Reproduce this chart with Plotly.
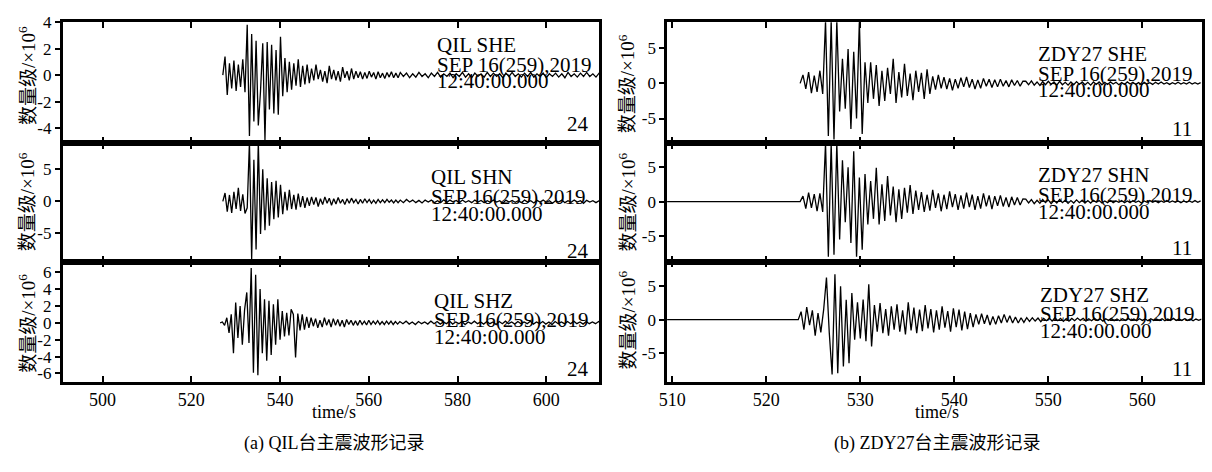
import plotly.graph_objects as go

# ---------------- data (values in units of 10^6 counts) ----------------
# Left column: station QIL, time axis in seconds
QIL_XRANGE = [491.0, 611.9]
QIL_XTICKS = [500, 520, 540, 560, 580, 600]
# Right column: station ZDY27
ZDY_XRANGE = [509.45, 566.3]
ZDY_XTICKS = [510, 520, 530, 540, 550, 560]

# --- QIL SHE ---
QIL_SHE_A_T0, QIL_SHE_A_DT = 527.1, 0.5
QIL_SHE_A = [0.0, 1.4, -1.5, 0.9, -1.0, 1.1, -1.2, 0.8, -0.9, 1.2, -1.3, 3.8, -4.6, 3.1, -3.5, 2.6, -3.8, -1.2, 2.4, -4.9,
             2.5, -2.6, 2.3, -2.9, 1.9, -3.0, 2.9, -1.6, 1.3, -1.3, 1.0, -1.1, 0.9, -0.8, 1.2, -0.9, 0.7, -0.7, 0.8, -0.6]
QIL_SHE_B_T0, QIL_SHE_B_DT = 547.1, 0.5
QIL_SHE_B = [0.5, -0.4, 0.8, -0.3, 0.4, -0.5, 0.3, -0.6, 0.7, -0.3, 0.4, -0.4, 0.3, -0.5, 0.6, -0.2, 0.3, -0.4, 0.5, -0.3,
             0.3, -0.2, 0.25, -0.3, 0.2, -0.25, 0.3, -0.15, 0.2, -0.3, 0.25, -0.2, 0.15, -0.25, 0.2, -0.15, 0.25, -0.2, 0.15, -0.2]
QIL_SHE_C_T0, QIL_SHE_C_DT = 567.1, 0.7
QIL_SHE_C = [0.2, -0.1, 0.15, -0.2, 0.1, -0.15, 0.2, -0.1, 0.1, -0.2, 0.15, -0.1, 0.2, -0.15, 0.1, -0.1, 0.15, -0.2,
             0.1, -0.1, 0.2, -0.15, 0.1, -0.2, 0.15, -0.1, 0.1, -0.15, 0.2, -0.1, 0.15, -0.1, 0.1, -0.2, 0.15, -0.1,
             0.2, -0.1, 0.1, -0.15, 0.15, -0.1, 0.2, -0.15, 0.1, -0.1, 0.15, -0.2, 0.1, -0.1, 0.15, -0.15, 0.1, -0.2,
             0.2, -0.1, 0.1, -0.15, 0.15, -0.1, 0.2, -0.1, 0.1, -0.15, 0.15, -0.1, 0.1, -0.2, 0.15, -0.1, 0.1, -0.1]

# --- QIL SHN ---
QIL_SHN_A_T0, QIL_SHN_A_DT = 527.1, 0.5
QIL_SHN_A = [0.0, 1.3, -1.6, 1.0, -1.8, 1.5, -1.2, 2.1, -1.5, 1.1, -1.9, -1.0, 9.3, -9.0, 6.5, -7.5, 9.3, -5.1, 5.0, -4.5,
             3.6, -3.8, 3.0, -2.8, 3.2, -2.5, 2.6, -2.0, 1.5, -1.4, 1.8, -1.2, 1.0, -1.3, 1.2, -0.9, 0.8, -1.0, 0.6, -0.7]
QIL_SHN_B_T0, QIL_SHN_B_DT = 547.1, 0.5
QIL_SHN_B = [0.7, -0.5, 0.6, -0.8, 0.4, -0.5, 0.7, -0.3, 0.5, -0.6, 0.4, -0.4, 0.6, -0.3, 0.3, -0.5, 0.4, -0.3, 0.5, -0.2,
             0.3, -0.4, 0.3, -0.3, 0.4, -0.2, 0.3, -0.3, 0.2, -0.3, 0.3, -0.2, 0.25, -0.2, 0.3, -0.15, 0.2, -0.25, 0.2, -0.2]
QIL_SHN_C_T0, QIL_SHN_C_DT = 567.1, 0.7
QIL_SHN_C = [0.2, -0.2, 0.3, -0.1, 0.2, -0.2, 0.15, -0.25, 0.2, -0.1, 0.2, -0.2, 0.1, -0.2, 0.25, -0.15, 0.2, -0.1,
             0.15, -0.2, 0.2, -0.15, 0.1, -0.2, 0.2, -0.1, 0.15, -0.2, 0.1, -0.15, 0.2, -0.1, 0.1, -0.3, 0.2, -0.1,
             0.15, -0.15, 0.1, -0.2, 0.2, -0.1, 0.1, -0.25, 0.15, -0.1, 0.2, -0.15, 0.1, -0.3, 0.1, -0.1, 0.2, -0.2,
             0.1, -0.15, 0.2, -0.1, 0.1, -0.3, 0.15, -0.1, 0.1, -0.2, 0.1, -0.25, 0.15, -0.1, 0.1, -0.2, 0.1, -0.1]

# --- QIL SHZ ---
QIL_SHZ_A_T0, QIL_SHZ_A_DT = 526.5, 0.5
QIL_SHZ_A = [0.0, 0.1, -0.3, 0.6, -1.2, 1.0, -3.6, 2.4, -1.8, 2.0, -2.6, 1.5, 3.6, -2.4, 6.5, -5.9, 5.7, -6.2, 4.0, -3.6,
             2.8, -4.5, 2.6, -3.8, 2.2, -2.6, 2.8, -2.0, 1.4, -1.6, 1.2, -1.5, 1.6, 1.0, -4.1, 1.1, -0.9, 1.0, -0.8, 0.7, -0.6]
QIL_SHZ_B_T0, QIL_SHZ_B_DT = 547.0, 0.5
QIL_SHZ_B = [0.6, -0.4, 0.5, -0.6, 0.3, -0.5, 0.6, -0.3, 0.4, -0.5, 0.5, -0.3, 0.4, -0.4, 0.3, -0.5, 0.4, -0.2, 0.3, -0.3,
             0.25, -0.3, 0.3, -0.2, 0.2, -0.25, 0.3, -0.2, 0.2, -0.15, 0.25, -0.2, 0.15, -0.2, 0.2, -0.15, 0.2, -0.2, 0.15, -0.15]
QIL_SHZ_C_T0, QIL_SHZ_C_DT = 567.0, 0.7
QIL_SHZ_C = [0.15, -0.1, 0.2, -0.15, 0.1, -0.2, 0.15, -0.1, 0.1, -0.15, 0.2, -0.1, 0.15, -0.15, 0.1, -0.1, 0.2, -0.15,
             0.1, -0.1, 0.15, -0.2, 0.1, -0.1, 0.2, -0.1, 0.1, -0.15, 0.15, -0.1, 0.1, -0.2, 0.15, -0.1, 0.2, -0.1,
             0.1, -0.15, 0.15, -0.1, 0.1, -0.1, 0.2, -0.15, 0.1, -0.1, 0.15, -0.15, 0.1, -0.2, 0.15, -0.1, 0.1, -0.1,
             0.15, -0.1, 0.2, -0.1, 0.1, -0.15, 0.15, -0.1, 0.1, -0.1, 0.15, -0.15, 0.1, -0.1, 0.15, -0.1, 0.1, -0.1]

# --- ZDY27 SHE ---
ZDY_SHE_A_T0, ZDY_SHE_A_DT = 523.6, 0.3
ZDY_SHE_A = [0.0, 1.2, -0.8, 1.6, -1.4, 1.1, -1.2, 1.8, -1.5, 8.9, -7.5, 8.9, -8.0, 8.9, -4.0, 3.5, -3.6, 4.9, -6.5, 4.5,
             -5.0, 8.9, -7.2, 3.0, -2.8, 3.0, -2.2, 2.6, -3.2, 1.8, -2.5, 2.2, -1.5, 3.5, -2.8, 1.6, -2.0, 2.8, -1.8, 1.4,
             -2.4, 1.8, -1.2, 1.5, -2.2, 2.0, -1.5, 1.0, -0.9, 1.2, -0.7,
             0.9, -0.8, 0.7, -1.0, 0.6, -0.7, 0.8, -0.5, 0.9, -0.6, 0.6, -0.8, 0.5, -0.7, 0.7, -0.4, 0.6, -0.6, 0.5, -0.5,
             0.6, -0.4, 0.4, -0.5, 0.5, -0.3, 0.4, -0.4, 0.3]
ZDY_SHE_B_T0, ZDY_SHE_B_DT = 547.6, 0.3
ZDY_SHE_B = [0.3, -0.2, 0.35, -0.25, 0.2, -0.3, 0.25, -0.2, 0.3, -0.15, 0.2, -0.25, 0.3, -0.2, 0.15, -0.25, 0.2, -0.2,
             0.25, -0.15, 0.2, -0.2, 0.15, -0.25, 0.2, -0.15, 0.2, -0.2, 0.15, -0.15, 0.2, -0.1, 0.15, -0.2, 0.1, -0.15,
             0.2, -0.1, 0.15, -0.15, 0.1, -0.2, 0.15, -0.1, 0.1, -0.15, 0.15, -0.1, 0.2, -0.1, 0.1, -0.15, 0.1, -0.1,
             0.15, -0.1, 0.1, -0.1, 0.15, -0.1, 0.1, -0.1, 0.1]

# --- ZDY27 SHN ---
ZDY_SHN_PRE_T = [509.0, 523.5]
ZDY_SHN_PRE = [0.0, 0.0]
ZDY_SHN_A_T0, ZDY_SHN_A_DT = 523.6, 0.3
ZDY_SHN_A = [0.0, 0.8, -1.0, 1.3, -0.9, 1.1, -1.4, 1.2, -1.5, 8.5, -8.0, 8.5, -7.7, 8.5, -5.5, 6.0, -3.0, 5.0, -6.0, 7.3,
             -8.0, 3.5, -7.0, 4.0, -3.3, 3.0, -2.5, 4.9, -3.3, 2.5, -2.8, 3.7, -2.0, 2.2, -3.0, 1.8, -2.5, 2.0, -1.6, 2.4,
             -1.8,
             1.6, -1.2, 1.4, -1.5, 1.0, -1.3, 1.7, -0.9, 1.2, -1.4, 1.0, -1.1, 1.5, -0.8, 1.1, -1.2, 0.9, -1.0, 1.3, -0.8,
             1.0, -1.2, 0.8, -1.0, 1.2, -0.7, 0.9, -1.1, 0.8, -0.6, 0.9, -0.7, 0.6, -0.8, 0.7, -0.5, 0.6, -0.5, 0.4]
ZDY_SHN_B_T0, ZDY_SHN_B_DT = 547.6, 0.3
ZDY_SHN_B = [0.35, -0.2, 0.3, -0.3, 0.2, -0.25, 0.3, -0.15, 0.25, -0.3, 0.2, -0.2, 0.3, -0.15, 0.2, -0.25, 0.15, -0.2,
             0.25, -0.15, 0.2, -0.2, 0.15, -0.2, 0.2, -0.1, 0.15, -0.2, 0.1, -0.15, 0.2, -0.15, 0.1, -0.1, 0.15, -0.15,
             0.1, -0.15, 0.15, -0.1, 0.1, -0.2, 0.1, -0.1, 0.15, -0.1, 0.1, -0.15, 0.1, -0.1, 0.15, -0.1, 0.1, -0.1,
             0.1, -0.15, 0.1, -0.1, 0.1, -0.1, 0.15, -0.1, 0.1]

# --- ZDY27 SHZ ---
ZDY_SHZ_PRE_T = [509.0, 523.3]
ZDY_SHZ_PRE = [0.0, 0.0]
ZDY_SHZ_A_T0, ZDY_SHZ_A_DT = 523.4, 0.3
ZDY_SHZ_A = [0.0, 1.2, -1.5, 1.9, -0.8, 1.4, -2.4, 1.0, -1.9, 1.5, 6.3, -2.0, -8.2, 6.8, -8.0, 5.0, -7.0, 3.0, -6.5, 4.0,
             -3.0, 2.6, -2.8, 3.0, -3.2, 5.3, -4.0, 2.2, -1.8, 2.5, -2.0, 1.6, -2.4, 2.0, -1.5, 2.3, -1.8, 1.4, -2.2, 2.6,
             -1.6, 1.8, -2.0, 1.5, -1.7, 2.2, -1.3, 1.6, -1.9, 1.4, -1.5, 2.0, -1.2, 1.3, -1.8, 1.7, -1.1, 1.5, -1.6, 1.2,
             -1.4, 1.0, -1.1, 0.8, -0.7, 0.9, -0.6, 0.7, -0.8, 0.5, -0.7, 0.6, -0.5, 0.8, -0.4, 0.6, -0.5, 0.4, -0.5, 0.3,
             -0.4]
ZDY_SHZ_B_T0, ZDY_SHZ_B_DT = 547.7, 0.3
ZDY_SHZ_B = [0.3, -0.25, 0.3, -0.2, 0.25, -0.3, 0.2, -0.15, 0.25, -0.2, 0.3, -0.15, 0.2, -0.25, 0.15, -0.2, 0.2, -0.15,
             0.25, -0.1, 0.2, -0.2, 0.15, -0.15, 0.2, -0.1, 0.15, -0.2, 0.15, -0.1, 0.2, -0.15, 0.1, -0.15, 0.15, -0.1,
             0.2, -0.1, 0.1, -0.15, 0.15, -0.1, 0.1, -0.15, 0.15, -0.1, 0.1, -0.1, 0.15, -0.15, 0.1, -0.1, 0.2, -0.1,
             0.1, -0.1, 0.15, -0.1, 0.1, -0.15, 0.1, -0.1, 0.1]

# y-axis ranges and tick labels per panel
QIL_SHE_YRANGE = [-5.14, 4.0]
QIL_SHE_YTICKS = [4, 2, 0, -2, -4]
QIL_SHN_YRANGE = [-9.4, 9.1]
QIL_SHN_YTICKS = [5, 0, -5]
QIL_SHZ_YRANGE = [-7.0, 7.26]
QIL_SHZ_YTICKS = [6, 4, 2, 0, -2, -4, -6]
ZDY_SHE_YRANGE = [-8.5, 8.7]
ZDY_SHE_YTICKS = [5, 0, -5]
ZDY_SHN_YRANGE = [-8.7, 8.5]
ZDY_SHN_YTICKS = [5, 0, -5]
ZDY_SHZ_YRANGE = [-9.3, 8.7]
ZDY_SHZ_YTICKS = [5, 0, -5]

# panel labels
QIL_NAMES = ["QIL SHE", "QIL SHN", "QIL SHZ"]
ZDY_NAMES = ["ZDY27 SHE", "ZDY27 SHN", "ZDY27 SHZ"]
DATE_TEXT = "SEP 16(259),2019"
TIME_TEXT = "12:40:00.000"
QIL_COUNT = "24"
ZDY_COUNT = "11"
Y_TITLE = "数量级/×10<sup>6</sup>"
X_TITLE = "time/s"
CAPTIONS = ["(a) QIL台主震波形记录", "(b) ZDY27台主震波形记录"]

# ---------------- figure ----------------
W, H = 1212, 472
SERIF = "Liberation Serif, Times New Roman, serif"
CJK = "Liberation Serif, Noto Sans CJK SC, serif"


def fx(p):
    return p / W


def fy(p):
    return 1 - p / H


def build(segments, pre=None):
    xs, ys = [], []
    if pre is not None:
        xs += list(pre[0])
        ys += list(pre[1])
    for t0, dt, vals in segments:
        xs += [t0 + dt * i for i in range(len(vals))]
        ys += list(vals)
    return xs, ys


COLS = [(55, 595), (663.5, 1201.5)]
ROWS = [(13.5, 137), (137, 258), (258, 381)]
# per panel label placement (pixels): text left x, SEP-line centre y, count centre y
LABEL_POS = {
    (0, 0): (430, 57, 117), (1, 0): (424, 192, 247), (2, 0): (427, 318, 368),
    (0, 1): (1035, 66, 123), (1, 1): (1035, 190, 244), (2, 1): (1037, 312, 368),
}

panels = [
    (0, 0, [(QIL_SHE_A_T0, QIL_SHE_A_DT, QIL_SHE_A), (QIL_SHE_B_T0, QIL_SHE_B_DT, QIL_SHE_B), (QIL_SHE_C_T0, QIL_SHE_C_DT, QIL_SHE_C)],
     None, QIL_SHE_YRANGE, QIL_SHE_YTICKS, QIL_NAMES[0], QIL_COUNT),
    (0, 1, [(ZDY_SHE_A_T0, ZDY_SHE_A_DT, ZDY_SHE_A), (ZDY_SHE_B_T0, ZDY_SHE_B_DT, ZDY_SHE_B)],
     None, ZDY_SHE_YRANGE, ZDY_SHE_YTICKS, ZDY_NAMES[0], ZDY_COUNT),
    (1, 0, [(QIL_SHN_A_T0, QIL_SHN_A_DT, QIL_SHN_A), (QIL_SHN_B_T0, QIL_SHN_B_DT, QIL_SHN_B), (QIL_SHN_C_T0, QIL_SHN_C_DT, QIL_SHN_C)],
     None, QIL_SHN_YRANGE, QIL_SHN_YTICKS, QIL_NAMES[1], QIL_COUNT),
    (1, 1, [(ZDY_SHN_A_T0, ZDY_SHN_A_DT, ZDY_SHN_A), (ZDY_SHN_B_T0, ZDY_SHN_B_DT, ZDY_SHN_B)],
     (ZDY_SHN_PRE_T, ZDY_SHN_PRE), ZDY_SHN_YRANGE, ZDY_SHN_YTICKS, ZDY_NAMES[1], ZDY_COUNT),
    (2, 0, [(QIL_SHZ_A_T0, QIL_SHZ_A_DT, QIL_SHZ_A), (QIL_SHZ_B_T0, QIL_SHZ_B_DT, QIL_SHZ_B), (QIL_SHZ_C_T0, QIL_SHZ_C_DT, QIL_SHZ_C)],
     None, QIL_SHZ_YRANGE, QIL_SHZ_YTICKS, QIL_NAMES[2], QIL_COUNT),
    (2, 1, [(ZDY_SHZ_A_T0, ZDY_SHZ_A_DT, ZDY_SHZ_A), (ZDY_SHZ_B_T0, ZDY_SHZ_B_DT, ZDY_SHZ_B)],
     (ZDY_SHZ_PRE_T, ZDY_SHZ_PRE), ZDY_SHZ_YRANGE, ZDY_SHZ_YTICKS, ZDY_NAMES[2], ZDY_COUNT),
]

fig = go.Figure()
layout = dict(
    width=W, height=H, margin=dict(l=0, r=0, t=0, b=0),
    paper_bgcolor="white", plot_bgcolor="white", showlegend=False,
    font=dict(family=SERIF, size=17, color="black"),
)
annotations = []

for k, (r, c, segs, pre, yr, yt, name, count) in enumerate(panels):
    idx = k + 1
    xa = "xaxis" if idx == 1 else f"xaxis{idx}"
    ya = "yaxis" if idx == 1 else f"yaxis{idx}"
    xref = "x" if idx == 1 else f"x{idx}"
    yref = "y" if idx == 1 else f"y{idx}"
    xs, ys = build(segs, pre)
    fig.add_trace(go.Scatter(x=xs, y=ys, mode="lines", xaxis=xref, yaxis=yref,
                             line=dict(color="black", width=1.3), hoverinfo="skip"))
    x0, x1 = COLS[c]
    top, bot = ROWS[r]
    xrange = QIL_XRANGE if c == 0 else ZDY_XRANGE
    xticks = QIL_XTICKS if c == 0 else ZDY_XTICKS
    layout[xa] = dict(
        domain=[fx(x0), fx(x1)], range=xrange, anchor=yref,
        showline=True, linecolor="black", linewidth=2.5, mirror="ticks",
        ticks="inside", ticklen=6, tickwidth=1.5, tickcolor="black",
        tickvals=xticks, ticktext=[str(v) for v in xticks],
        showticklabels=(r == 2), showgrid=False, zeroline=False,
        tickfont=dict(family=SERIF, size=18),
    )
    layout[ya] = dict(
        domain=[fy(bot), fy(top)], range=yr, anchor=xref,
        showline=True, linecolor="black", linewidth=2.5, mirror=True,
        ticks="outside", ticklen=5, tickwidth=1.5, tickcolor="black",
        tickvals=yt, ticktext=[str(v) for v in yt],
        showgrid=False, zeroline=False, tickfont=dict(family=SERIF, size=17),
    )
    zero_px = top + (yr[1] - 0) / (yr[1] - yr[0]) * (bot - top)
    tx, sep_y, cnt_y = LABEL_POS[(r, c)]
    for dy, txt in [(-20, name), (0, DATE_TEXT), (17, TIME_TEXT)]:
        annotations.append(dict(x=fx(tx), y=fy(sep_y + dy), xref="paper", yref="paper",
                                text=txt, showarrow=False, xanchor="left", yanchor="middle",
                                font=dict(family=SERIF, size=21, color="black")))
    annotations.append(dict(x=fx(x1 - 8), y=fy(cnt_y), xref="paper", yref="paper",
                            text=count, showarrow=False, xanchor="right", yanchor="middle",
                            font=dict(family=SERIF, size=21, color="black")))
    ytx = 19 if c == 0 else 623
    annotations.append(dict(x=fx(ytx), y=fy(zero_px), xref="paper", yref="paper",
                            text=Y_TITLE, textangle=-90, showarrow=False,
                            xanchor="center", yanchor="middle",
                            font=dict(family=CJK, size=19, color="black")))

for c, cap in enumerate(CAPTIONS):
    x0, x1 = COLS[c]
    cx = (x0 + x1) / 2
    annotations.append(dict(x=fx(cx + 3), y=fy(412), xref="paper", yref="paper", text=X_TITLE,
                            showarrow=False, xanchor="center", yanchor="middle",
                            font=dict(family=SERIF, size=18, color="black")))
    annotations.append(dict(x=fx(cx + 3), y=fy(444), xref="paper", yref="paper", text=cap,
                            showarrow=False, xanchor="center", yanchor="middle",
                            font=dict(family=CJK, size=18, color="black")))

layout["annotations"] = annotations
fig.update_layout(**layout)
fig.write_html("out.html",
               post_script="document.body.style.margin='0px';document.body.style.overflow='hidden';")
